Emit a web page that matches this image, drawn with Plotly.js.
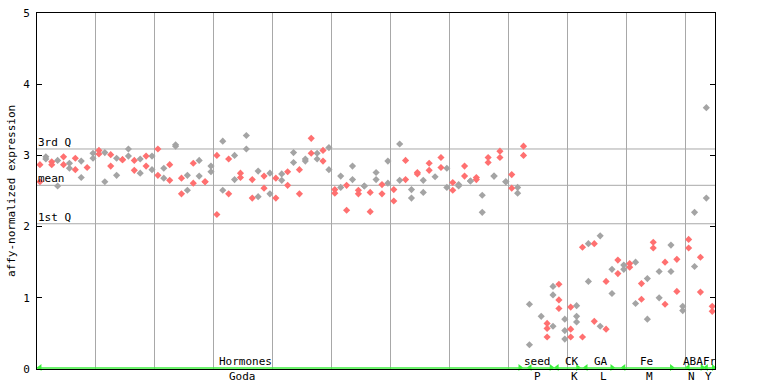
<!DOCTYPE html>
<html>
<head>
<meta charset="utf-8">
<script src="https://cdn.plot.ly/plotly-3.0.1.min.js"></script>
<style>html,body{margin:0;padding:0;background:#fff;}#chart{width:768px;height:384px;}</style>
</head>
<body>
<div id="chart"></div>
<script>
// ---- data: each inner array = replicate values of one sample column ----
const godaValues = [
  [2.87,2.63],[2.98,2.95],[2.91,2.87],[2.93,2.57],[2.98,2.87],[2.89,2.82],[2.96,2.80],[2.92,2.69],[2.83],[3.03,2.96],
  [3.07,3.02],[3.04,2.63],[3.01,2.85],[2.96,2.72],[2.94,2.94],[3.09,2.99],[2.93,2.79],[2.95,2.75],[2.99,2.85],[2.99,2.80],
  [3.09,2.72],[2.82,2.68],[2.87,2.65],[3.15,3.13],[2.68,2.46],[2.72,2.51],[2.89,2.61],[2.93,2.71],[2.63,2.63],[2.85,2.77],
  [3.00,2.17],[3.20,2.51],[2.95,2.46],[3.00,2.66],[2.75,2.69],[3.28,3.09],[2.66,2.40],[2.78,2.42],[2.71,2.54],[2.75,2.46],
  [2.68,2.40],[2.74,2.65],[2.77,2.58],[3.04,2.90],[2.80,2.46],[2.95,2.92],[3.24,3.03],[3.03,2.95],[3.07,2.92],[3.11,2.80],
  [2.52,2.47],[2.71,2.55],[2.58,2.23],[2.85,2.66],[2.51,2.46],[2.57,2.57],[2.48,2.21],[2.76,2.66],[2.59,2.46],[2.92,2.61],
  [2.52,2.36],[3.16,2.65],[2.93,2.66],[2.52,2.40],[2.76,2.74],[2.65,2.48],[2.89,2.79],[2.70],[2.97,2.83],[2.82,2.55],
  [2.62,2.51],[2.59,2.57],[2.85,2.71],[2.64,2.64],[2.69,2.66],[2.44,2.20],[2.97,2.90],[2.71,2.71],[3.06,2.97],[2.63,2.63],
  [2.73,2.54],[2.55,2.47],[3.13,3.00]
];
const seedValues = [[0.91,0.34],[],[0.74],[0.64,0.57,0.45],[1.16,1.04,0.60]];
const ckValues = [[1.19,0.97,0.85],[0.70,0.54,0.42],[0.87,0.56,0.45],[0.89,0.74,0.66]];
const gaValues = [[1.71,0.45],[1.76,1.23],[1.76,0.67],[1.87,0.60],[1.23,0.56],[1.40,1.06]];
const feValues = [[1.53,1.34],[1.46,1.40],[1.48,1.43],[1.50,0.92],[1.20,0.98],[1.27,0.70],[1.78,1.70],[1.37,1.00],[1.50,0.91],[1.74,1.37],[1.54,1.09]];
const abaValues = [[0.88,0.82],[1.82,1.70],[2.20,1.44],[1.57,1.08]];
const frValues = [[3.67,2.40],[0.88,0.81]];

const upperLabels = ["Hormones","seed","CK","GA","Fe","ABA","Fr"];
const lowerLabels = ["Goda","P","K","L","M","N","Y"];

const quartileNames = ["3rd Q","mean","1st Q"];
const quartileValues = [3.09, 2.58, 2.04];

// ---- layout helpers (positions, not data) ----
const upperLabelX = [34.8, 84.3, 90.2, 95.1, 102.9, 110.7, 113.6];
const lowerLabelX = [34.4, 84.4, 90.6, 95.5, 103.4, 110.4, 113.4];
const arrowLeftX = [0.0, 83.1, 87.7, 92.6, 99.0, 109.9, 113.0];
const arrowRightX = [81.4, 86.7, 91.2, 97.0, 107.1, 112.3, 114.2];

const allColumns = [].concat(godaValues, seedValues, ckValues, gaValues, feValues, abaValues, frValues);

const redX = [], redY = [], grayX = [], grayY = [];
allColumns.forEach((col, k) => {
  col.forEach(v => {
    if (k % 2 === 0) { redX.push(k); redY.push(v); }
    else { grayX.push(k); grayY.push(v); }
  });
});

const FONT = "DejaVu Sans Mono, Liberation Mono, monospace";
const GREEN = "#3cf03c";

const traces = [
  {x: grayX, y: grayY, type: "scatter", mode: "markers", hoverinfo: "none",
   marker: {symbol: "diamond", size: 5.5, color: "#a4a4a4", line: {width: 0}}, cliponaxis: false},
  {x: redX, y: redY, type: "scatter", mode: "markers", hoverinfo: "none",
   marker: {symbol: "diamond", size: 5.5, color: "#ff7070", line: {width: 0}}, cliponaxis: false},
  {x: arrowLeftX, y: arrowLeftX.map(() => 0.02), type: "scatter", mode: "markers", hoverinfo: "none",
   marker: {symbol: "triangle-left", size: 6, color: GREEN}, cliponaxis: false},
  {x: arrowRightX, y: arrowRightX.map(() => 0.02), type: "scatter", mode: "markers", hoverinfo: "none",
   marker: {symbol: "triangle-right", size: 6, color: GREEN}, cliponaxis: false}
];

const shapes = quartileValues.map(v => ({
  type: "line", xref: "paper", yref: "y", x0: 0, x1: 1, y0: v, y1: v,
  line: {color: "#a8a8a8", width: 1}, layer: "below"
}));
shapes.push({type: "line", xref: "paper", yref: "y", ysizemode: "pixel", yanchor: 0,
  x0: 0, x1: 1, y0: 1, y1: 1, line: {color: GREEN, width: 1.5}});

const annotations = [];
quartileNames.forEach((t, i) => annotations.push({
  text: t, xref: "paper", yref: "y", x: 0, y: quartileValues[i], xanchor: "left", yanchor: "bottom",
  showarrow: false, font: {family: FONT, size: 11, color: "#000"}, borderpad: 0, yshift: -1
}));
upperLabels.forEach((t, i) => annotations.push({
  text: t, xref: "x", yref: "y", x: upperLabelX[i], y: 0, xanchor: "center", yanchor: "bottom",
  showarrow: false, font: {family: FONT, size: 11, color: "#000"}, borderpad: 0, yshift: 0
}));
lowerLabels.forEach((t, i) => annotations.push({
  text: t, xref: "x", yref: "y", x: lowerLabelX[i], y: 0, xanchor: "center", yanchor: "top",
  showarrow: false, font: {family: FONT, size: 11, color: "#000"}, borderpad: 0, yshift: 0
}));
annotations.push({
  text: "affy-normalized expression", xref: "paper", yref: "paper", x: 0, y: 0.5,
  xshift: -26, textangle: -90, xanchor: "center", yanchor: "middle", showarrow: false,
  font: {family: FONT, size: 11, color: "#000"}
});

const layout = {
  width: 768, height: 384,
  margin: {l: 37, r: 53, t: 13, b: 15, pad: 0},
  paper_bgcolor: "#fff", plot_bgcolor: "#fff",
  showlegend: false,
  font: {family: FONT, size: 11, color: "#000"},
  xaxis: {
    range: [-0.5, 114.47], showgrid: true, gridcolor: "#a8a8a8", gridwidth: 1,
    tick0: 9.5, dtick: 10, ticks: "", showticklabels: false, zeroline: false,
    showline: true, linecolor: "#000", linewidth: 1, mirror: true, fixedrange: true
  },
  yaxis: {
    range: [0, 5], tick0: 0, dtick: 1, ticks: "inside", ticklen: 5, tickcolor: "#000",
    showgrid: false, zeroline: false, showline: true, linecolor: "#000", linewidth: 1,
    mirror: "ticks", tickfont: {family: FONT, size: 11, color: "#000"}, ticklabelstandoff: 4,
    fixedrange: true
  },
  shapes: shapes,
  annotations: annotations
};

Plotly.newPlot("chart", traces, layout, {staticPlot: true, displayModeBar: false});
</script>
</body>
</html>
